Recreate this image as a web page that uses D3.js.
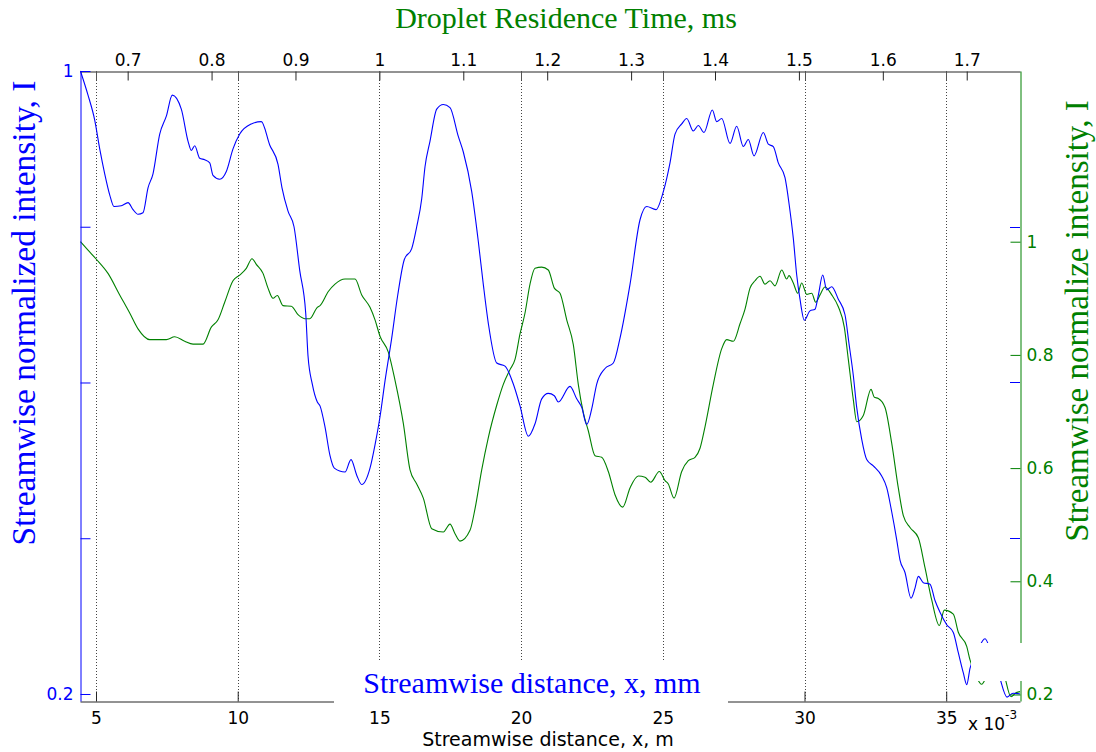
<!DOCTYPE html>
<html>
<head>
<meta charset="utf-8">
<script src="https://cdn.jsdelivr.net/npm/d3@7"></script>
<style>
  html, body { margin: 0; padding: 0; background: #fff; }
  svg { display: block; }
</style>
</head>
<body>
<svg id="chart" width="1096" height="752"></svg>
<script>
// ---------------- DATA ----------------
// Streamwise distance (x 10^-3 m) for the blue curve
const blueX = [4.45,4.718,4.954,5.131,5.307,5.483,5.635,5.893,6.129,6.306,6.482,6.658,6.835,7.011,7.248,7.481,7.692,8.010,8.246,8.363,8.483,8.659,8.836,9.012,9.128,9.365,9.598,9.834,10.071,10.480,10.833,11.129,11.422,11.563,11.775,11.987,12.188,12.400,12.481,12.632,12.809,12.904,13.080,13.257,13.409,13.786,13.998,14.199,14.376,14.668,14.845,15.021,15.198,15.434,15.646,15.879,16.140,16.316,16.493,16.609,16.786,17.022,17.255,17.491,17.784,17.961,18.257,18.490,18.666,18.843,19.139,19.432,19.725,19.961,20.254,20.491,20.727,20.960,21.172,21.313,21.726,21.962,22.139,22.315,22.491,22.668,22.961,23.254,23.490,23.843,24.196,24.432,24.760,25.018,25.254,25.431,25.667,25.843,26.076,26.253,26.454,26.747,26.902,27.079,27.371,27.608,27.841,28.017,28.218,28.546,28.723,28.899,29.076,29.312,29.464,29.605,29.725,29.841,29.993,30.194,30.371,30.487,30.643,30.784,30.960,31.193,31.429,31.570,31.722,31.842,32.019,32.195,32.428,32.724,32.901,33.077,33.254,33.370,33.546,33.758,33.899,34.016,34.192,34.429,34.605,34.781,35.018,35.251,35.427,35.604,35.724,35.840,36.087,36.369,36.581,36.863,37.146,37.357,37.604];
// Streamwise normalized intensity (left axis, blue)
const blueI = [1.0,0.969,0.937,0.900,0.868,0.841,0.826,0.827,0.831,0.822,0.816,0.818,0.850,0.868,0.919,0.942,0.969,0.951,0.910,0.898,0.904,0.888,0.886,0.882,0.866,0.861,0.871,0.900,0.919,0.932,0.935,0.905,0.880,0.850,0.820,0.800,0.744,0.689,0.634,0.598,0.575,0.570,0.543,0.506,0.490,0.485,0.501,0.481,0.469,0.490,0.520,0.556,0.602,0.657,0.712,0.758,0.772,0.800,0.836,0.877,0.910,0.951,0.957,0.953,0.916,0.896,0.845,0.781,0.726,0.676,0.625,0.621,0.598,0.570,0.531,0.547,0.579,0.586,0.583,0.575,0.595,0.579,0.568,0.546,0.566,0.598,0.618,0.625,0.657,0.726,0.809,0.826,0.822,0.845,0.882,0.919,0.932,0.939,0.923,0.930,0.921,0.950,0.935,0.939,0.907,0.929,0.903,0.912,0.891,0.921,0.906,0.903,0.882,0.863,0.827,0.785,0.738,0.707,0.680,0.692,0.694,0.712,0.738,0.719,0.723,0.707,0.687,0.650,0.609,0.568,0.527,0.501,0.493,0.480,0.465,0.434,0.398,0.372,0.356,0.323,0.336,0.351,0.343,0.341,0.320,0.305,0.289,0.279,0.253,0.227,0.212,0.233,0.254,0.271,0.254,0.224,0.196,0.201,0.200];

// Streamwise distance (x 10^-3 m) for the green curve
const greenX = [4.45,4.718,5.011,5.423,5.836,6.189,6.482,6.895,7.481,7.777,8.130,8.423,8.776,9.068,9.305,9.541,9.834,10.071,10.303,10.505,10.656,10.893,11.069,11.246,11.397,11.598,11.891,12.128,12.364,12.541,12.809,12.904,13.197,13.433,13.786,14.139,14.376,14.668,14.845,15.021,15.314,15.551,15.844,16.080,16.316,16.549,16.846,17.255,17.491,17.668,17.844,18.197,18.373,18.610,18.843,19.139,19.372,19.608,19.785,19.961,20.138,20.314,20.491,20.727,20.960,21.172,21.373,21.609,21.842,22.018,22.195,22.371,22.608,22.844,23.077,23.313,23.585,23.843,24.136,24.372,24.573,24.877,25.078,25.194,25.395,25.667,25.900,26.136,26.313,26.489,26.782,27.079,27.255,27.488,27.724,27.901,28.077,28.254,28.430,28.606,28.783,28.959,29.196,29.372,29.453,29.605,29.760,29.901,30.078,30.254,30.395,30.547,30.723,30.960,31.193,31.404,31.546,31.722,31.842,32.075,32.347,32.463,32.604,32.841,33.077,33.310,33.487,33.723,34.016,34.252,34.489,34.757,34.933,35.251,35.427,35.724,35.840,36.052,36.253,36.440,36.722,36.969,37.287,37.463,37.604];
// Streamwise normalize intensity (right axis, green)
const greenI = [1.0,0.985,0.969,0.944,0.906,0.874,0.846,0.827,0.827,0.832,0.824,0.819,0.819,0.849,0.862,0.893,0.931,0.941,0.953,0.970,0.960,0.944,0.918,0.900,0.905,0.887,0.886,0.871,0.864,0.864,0.884,0.887,0.912,0.925,0.934,0.934,0.906,0.884,0.862,0.833,0.805,0.755,0.679,0.597,0.572,0.547,0.493,0.487,0.501,0.484,0.471,0.490,0.528,0.597,0.654,0.711,0.748,0.774,0.792,0.837,0.874,0.925,0.953,0.955,0.950,0.918,0.909,0.862,0.818,0.748,0.698,0.666,0.622,0.619,0.594,0.553,0.531,0.565,0.586,0.584,0.575,0.594,0.578,0.572,0.547,0.594,0.613,0.619,0.635,0.673,0.748,0.811,0.827,0.824,0.855,0.881,0.918,0.931,0.939,0.925,0.931,0.922,0.950,0.934,0.940,0.927,0.909,0.927,0.907,0.909,0.893,0.906,0.920,0.906,0.885,0.849,0.792,0.721,0.682,0.693,0.739,0.725,0.723,0.707,0.644,0.565,0.516,0.495,0.477,0.424,0.367,0.322,0.349,0.342,0.310,0.285,0.261,0.233,0.218,0.233,0.247,0.244,0.196,0.203,0.205];

// Tick values / labels
const xTicks = [5, 10, 15, 20, 25, 30, 35];
const timeTicks = [0.7, 0.8, 0.9, 1.0, 1.1, 1.2, 1.3, 1.4, 1.5, 1.6, 1.7];
const leftTicks = [0.2, 0.4, 0.6, 0.8, 1.0];
const leftLabelled = [0.2, 1.0];
const rightTicks = [0.2, 0.4, 0.6, 0.8, 1.0];

const titleTop = "Droplet Residence Time, ms";
const labelLeft = "Streamwise normalized intensity, I";
const labelRight = "Streamwise normalize intensity, I";
const labelBottomBig = "Streamwise distance, x, mm";
const labelBottomSmall = "Streamwise distance, x, m";

// ---------------- LAYOUT ----------------
const L = 80, R = 1020, T = 71, B = 701;
const BLUE = "#0000ff", GREEN = "#008000", AX = "#262626";
const SANS = "'DejaVu Sans', Arial, sans-serif";
const SERIF = "'Liberation Serif', 'Times New Roman', serif";
const fmt = d => String(+(+d).toFixed(1));

const svg = d3.select("#chart");

const x = d3.scaleLinear().domain([4.435, 37.604]).range([L, R]);
const tScale = d3.scaleLinear().domain([0.6432, 1.7635]).range([L, R]);
const yB = d3.scaleLinear().domain([0.191, 1.0]).range([B, T]);
const yG = d3.scaleLinear().domain([0.1885, 1.3016]).range([B, T]);

// grid lines (dotted) at x ticks
svg.append("g").selectAll("line").data(xTicks).join("line")
  .attr("x1", d => Math.round(x(d)) + 0.5).attr("x2", d => Math.round(x(d)) + 0.5)
  .attr("y1", T).attr("y2", B)
  .attr("stroke", "#444").attr("stroke-width", 1).attr("stroke-dasharray", "1,2");

// curves
const lineG = d3.line().x(d => x(d[0])).y(d => yG(d[1])).curve(d3.curveMonotoneX);
const lineB = d3.line().x(d => x(d[0])).y(d => yB(d[1])).curve(d3.curveMonotoneX);
svg.append("path").datum(greenX.map((v, i) => [v, greenI[i]]))
  .attr("d", lineG).attr("fill", "none").attr("stroke", GREEN).attr("stroke-width", 1.1);
svg.append("path").datum(blueX.map((v, i) => [v, blueI[i]]))
  .attr("d", lineB).attr("fill", "none").attr("stroke", BLUE).attr("stroke-width", 1.1);

// bottom axis
const gBot = svg.append("g").attr("transform", `translate(0,${B + 0.5})`)
  .call(d3.axisBottom(x).tickValues(xTicks).tickSizeInner(-10).tickSizeOuter(0).tickPadding(10).tickFormat(fmt));
gBot.select(".domain").attr("stroke", AX);
gBot.selectAll(".tick line").attr("stroke", AX);
gBot.selectAll("text").attr("font-family", SANS).attr("font-size", 17).attr("fill", "#000");

// top axis (time)
const gTop = svg.append("g").attr("transform", `translate(0,${T + 0.5})`)
  .call(d3.axisTop(tScale).tickValues(timeTicks).tickSizeInner(-9).tickSizeOuter(0).tickPadding(6).tickFormat(fmt));
gTop.select(".domain").attr("stroke", AX);
gTop.selectAll(".tick line").attr("stroke", AX);
gTop.selectAll("text").attr("font-family", SANS).attr("font-size", 17).attr("fill", "#000");
// x ticks mirrored on top
svg.append("g").selectAll("line").data(xTicks).join("line")
  .attr("x1", d => Math.round(x(d)) + 0.5).attr("x2", d => Math.round(x(d)) + 0.5)
  .attr("y1", T).attr("y2", T + 9).attr("stroke", "#555");

// left axis (blue)
const gLeft = svg.append("g").attr("transform", `translate(${L + 0.5},0)`)
  .call(d3.axisLeft(yB).tickValues(leftTicks).tickSizeInner(-10).tickSizeOuter(0).tickPadding(7)
    .tickFormat(d => leftLabelled.some(v => Math.abs(v - d) < 1e-9) ? fmt(d) : ""));
gLeft.select(".domain").attr("stroke", BLUE);
gLeft.selectAll(".tick line").attr("stroke", BLUE);
gLeft.selectAll("text").attr("font-family", SANS).attr("font-size", 17).attr("fill", BLUE);

// right: blue ticks mirrored
svg.append("g").selectAll("line").data(leftTicks.filter(d => d < 1 && d > 0.2)).join("line")
  .attr("x1", R - 10).attr("x2", R).attr("y1", d => Math.round(yB(d)) + 0.5).attr("y2", d => Math.round(yB(d)) + 0.5)
  .attr("stroke", BLUE);

// right axis (green)
const gRight = svg.append("g").attr("transform", `translate(${R + 0.5},0)`)
  .call(d3.axisRight(yG).tickValues(rightTicks).tickSizeInner(-10).tickSizeOuter(0).tickPadding(6).tickFormat(fmt));
gRight.select(".domain").attr("stroke", GREEN);
gRight.selectAll(".tick line").attr("stroke", GREEN);
gRight.selectAll("text").attr("font-family", SANS).attr("font-size", 17).attr("fill", GREEN);

// white boxes (text backgrounds)
svg.append("rect").attr("x", 334).attr("y", 661).attr("width", 394).attr("height", 43).attr("fill", "#fff");
svg.append("rect").attr("x", 971).attr("y", 643).attr("width", 52).attr("height", 38).attr("fill", "#fff");

// titles / labels
svg.append("text").attr("x", 566).attr("y", 28).attr("text-anchor", "middle")
  .attr("font-family", SERIF).attr("font-size", 30).attr("fill", GREEN).text(titleTop);
svg.append("text").attr("x", 532).attr("y", 693).attr("text-anchor", "middle")
  .attr("font-family", SERIF).attr("font-size", 30).attr("fill", BLUE).text(labelBottomBig);
svg.append("text").attr("x", 548).attr("y", 746).attr("text-anchor", "middle")
  .attr("font-family", SANS).attr("font-size", 19).attr("fill", "#000").text(labelBottomSmall);
svg.append("text").attr("transform", "translate(35,313) rotate(-90)").attr("text-anchor", "middle")
  .attr("font-family", SERIF).attr("font-size", 33.5).attr("fill", BLUE).text(labelLeft);
svg.append("text").attr("transform", "translate(1088,321) rotate(-90)").attr("text-anchor", "middle")
  .attr("font-family", SERIF).attr("font-size", 33).attr("fill", GREEN).text(labelRight);

// exponent label
const ex = svg.append("text").attr("x", 968).attr("y", 730)
  .attr("font-family", SANS).attr("font-size", 17).attr("fill", "#000");
ex.append("tspan").text("x 10");
ex.append("tspan").attr("dy", -11).attr("font-size", 12).text("-3");
</script>
</body>
</html>
